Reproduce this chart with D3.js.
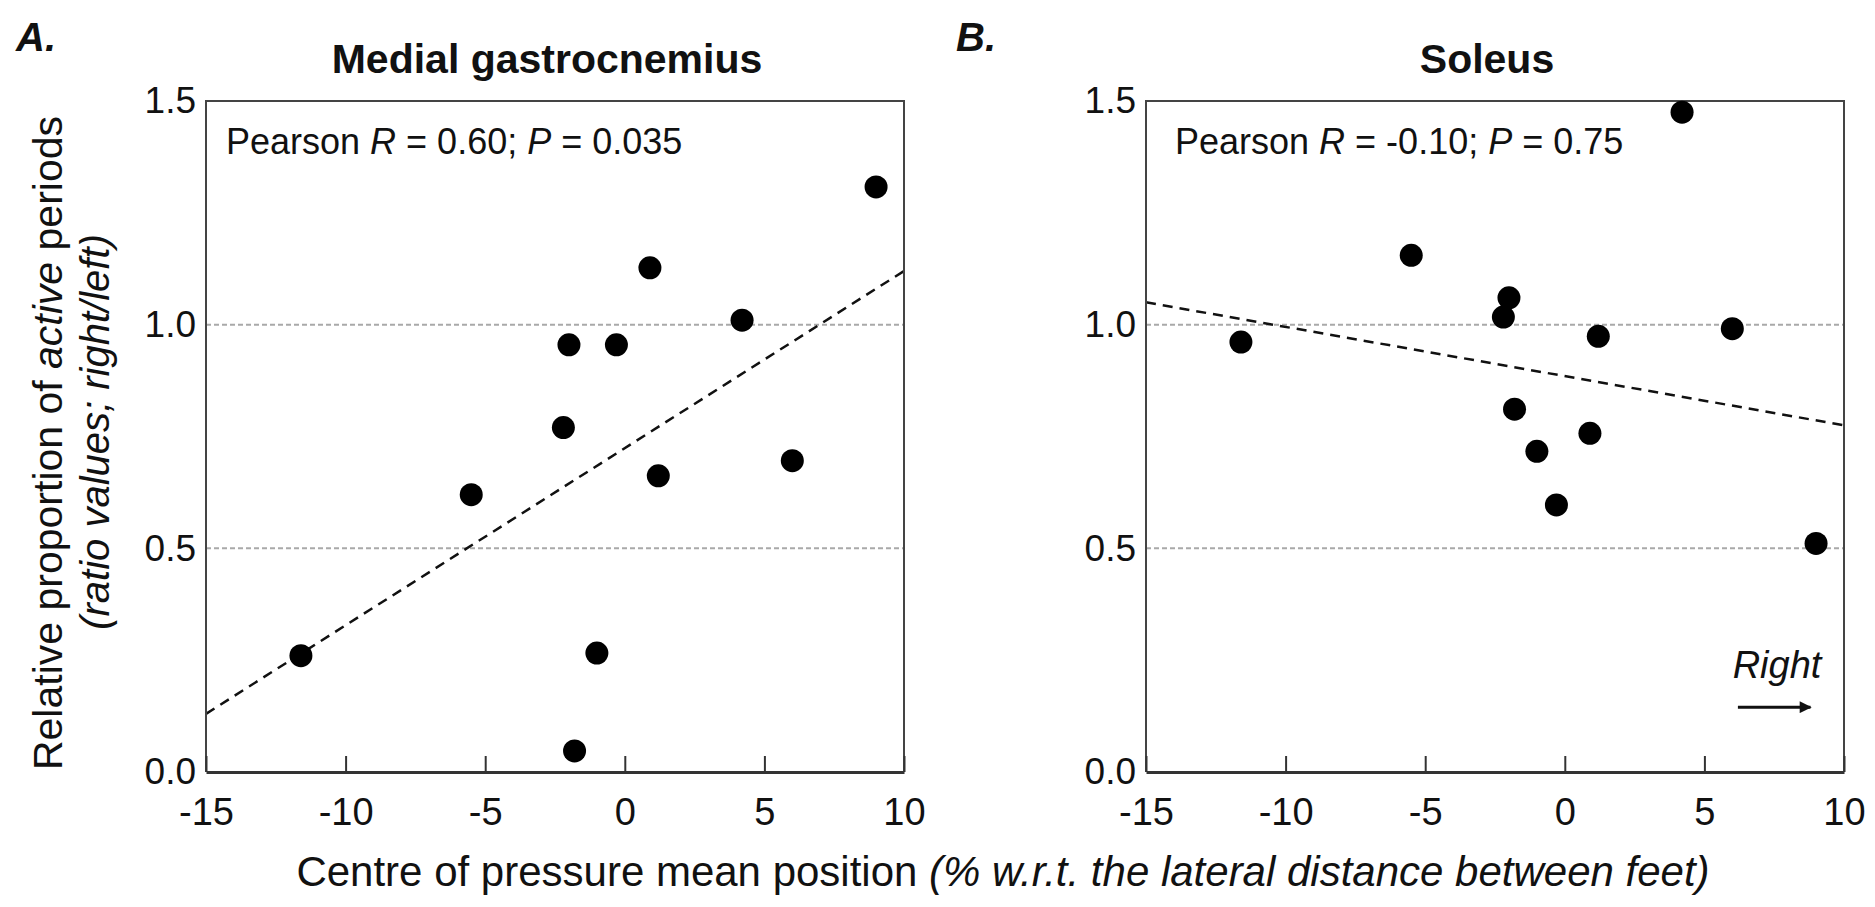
<!DOCTYPE html>
<html>
<head>
<meta charset="utf-8">
<script src="https://cdn.jsdelivr.net/npm/d3@7/dist/d3.min.js"></script>
<style>
  body { margin: 0; background: #fff; }
  text { font-family: "Liberation Sans", Arial, sans-serif; fill: #111; }
</style>
</head>
<body>
<script>
// centre of pressure mean position, one value per subject (same subjects in both panels)
var copX = [-11.6, -5.5, -2.2, -2.0, -1.8, -1.0, -0.3, 0.9, 1.2, 4.2, 6.0, 9.0];
var gastrocY = [0.26, 0.62, 0.77, 0.955, 0.047, 0.266, 0.955, 1.127, 0.662, 1.01, 0.696, 1.308];
var soleusY = [0.961, 1.155, 1.017, 1.06, 0.811, 0.717, 0.597, 0.757, 0.974, 1.475, 0.991, 0.511];

// regression line ends, at x = -15 and x = 10
var fitX = [-15, 10];
var gastrocFit = [0.13, 1.12];
var soleusFit = [1.05, 0.775];

var xTicks = [-15, -10, -5, 0, 5, 10];
var yTicks = [0, 0.5, 1.0, 1.5];
var refLines = [0.5, 1.0];

var svg = d3.select("body").append("svg")
  .attr("width", 1875)
  .attr("height", 907);

function drawPanel(opt) {
  var x = d3.scaleLinear().domain([-15, 10]).range([opt.left, opt.left + 698]);
  var y = d3.scaleLinear().domain([0, 1.5]).range([772, 101]);
  var g = svg.append("g");

  g.selectAll("line.ref")
    .data(refLines)
    .enter().append("line")
      .attr("class", "ref")
      .attr("x1", x(-15)).attr("x2", x(10))
      .attr("y1", function(d) { return y(d); })
      .attr("y2", function(d) { return y(d); })
      .attr("stroke", "#a9a9a9")
      .attr("stroke-width", 2)
      .attr("stroke-dasharray", "5,3");

  var line = d3.line()
    .x(function(d) { return x(d[0]); })
    .y(function(d) { return y(d[1]); });
  g.append("path")
    .attr("d", line(d3.zip(fitX, opt.fit)))
    .attr("fill", "none")
    .attr("stroke", "#111")
    .attr("stroke-width", 2.5)
    .attr("stroke-dasharray", "10,7");

  // frame: left, top, right
  g.append("path")
    .attr("d", "M" + x(-15) + "," + y(0) + "V" + y(1.5) + "H" + x(10) + "V" + y(0))
    .attr("fill", "none")
    .attr("stroke", "#444")
    .attr("stroke-width", 2);

  var xAxis = g.append("g")
    .attr("transform", "translate(0," + y(0) + ")")
    .call(d3.axisBottom(x).tickValues(xTicks).tickSizeInner(-16).tickSizeOuter(0)
      .tickPadding(26).tickFormat(function(d) { return String(d); }));
  xAxis.select(".domain").attr("stroke", "#333").attr("stroke-width", 3);
  xAxis.selectAll(".tick line").attr("stroke", "#333").attr("stroke-width", 2);
  xAxis.selectAll(".tick text")
    .attr("font-size", 38)
    .attr("fill", "#111")
    .style("font-family", "'Liberation Sans', Arial, sans-serif");

  var yAxis = g.append("g")
    .attr("transform", "translate(" + x(-15) + ",0)")
    .call(d3.axisLeft(y).tickValues(yTicks).tickSize(0).tickPadding(10).tickFormat(d3.format(".1f")));
  yAxis.select(".domain").remove();
  yAxis.selectAll(".tick text")
    .attr("font-size", 37)
    .attr("fill", "#111")
    .style("font-family", "'Liberation Sans', Arial, sans-serif");

  g.selectAll("circle.pt")
    .data(d3.zip(copX, opt.values))
    .enter().append("circle")
      .attr("class", "pt")
      .attr("cx", function(d) { return x(d[0]); })
      .attr("cy", function(d) { return y(d[1]); })
      .attr("r", 11.5)
      .attr("fill", "#000");

  var stat = g.append("text")
    .attr("x", opt.left + opt.statDx)
    .attr("y", 154)
    .attr("font-size", 36);
  stat.append("tspan").text("Pearson ");
  stat.append("tspan").attr("font-style", "italic").text("R");
  stat.append("tspan").text(" = " + opt.r + "; ");
  stat.append("tspan").attr("font-style", "italic").text("P");
  stat.append("tspan").text(" = " + opt.p);

  g.append("text")
    .attr("x", (x(-15) + x(10)) / 2 - 8)
    .attr("y", 73)
    .attr("text-anchor", "middle")
    .attr("font-size", 41)
    .attr("font-weight", "bold")
    .text(opt.title);

  g.append("text")
    .attr("x", opt.left - 190)
    .attr("y", 51)
    .attr("font-size", 40)
    .attr("font-weight", "bold")
    .attr("font-style", "italic")
    .text(opt.tag);

  return { x: x, y: y, g: g };
}

var pA = drawPanel({ left: 206, values: gastrocY, fit: gastrocFit, r: "0.60", p: "0.035",
  statDx: 20, title: "Medial gastrocnemius", tag: "A." });
var pB = drawPanel({ left: 1146, values: soleusY, fit: soleusFit, r: "-0.10", p: "0.75",
  statDx: 29, title: "Soleus", tag: "B." });

// "Right" direction marker in panel B
var defs = svg.append("defs");
defs.append("marker")
  .attr("id", "head")
  .attr("viewBox", "0 0 10 10")
  .attr("refX", 9).attr("refY", 5)
  .attr("markerWidth", 4.5).attr("markerHeight", 4)
  .attr("orient", "auto")
  .append("path").attr("d", "M0,0L10,5L0,10Z").attr("fill", "#111");

pB.g.append("line")
  .attr("x1", pB.x(6.2)).attr("x2", pB.x(8.8))
  .attr("y1", pB.y(0.145)).attr("y2", pB.y(0.145))
  .attr("stroke", "#111")
  .attr("stroke-width", 3)
  .attr("marker-end", "url(#head)");
pB.g.append("text")
  .attr("x", pB.x(7.6))
  .attr("y", pB.y(0.21))
  .attr("text-anchor", "middle")
  .attr("font-size", 38)
  .attr("font-style", "italic")
  .text("Right");

// y axis title (two lines)
var yt = svg.append("text")
  .attr("transform", "translate(62,443) rotate(-90)")
  .attr("text-anchor", "middle")
  .attr("font-size", 41);
yt.append("tspan").text("Relative proportion of ");
yt.append("tspan").attr("font-style", "italic").text("active");
yt.append("tspan").text(" periods");

var yt2 = svg.append("text")
  .attr("transform", "translate(109,432) rotate(-90)")
  .attr("text-anchor", "middle")
  .attr("font-size", 40)
  .attr("font-style", "italic");
yt2.append("tspan").text("(");
yt2.append("tspan").text("ratio values; right/left");
yt2.append("tspan").text(")");

// x axis title
var xt = svg.append("text")
  .attr("x", 1003)
  .attr("y", 886)
  .attr("text-anchor", "middle")
  .attr("font-size", 42);
xt.append("tspan").text("Centre of pressure mean position ");
xt.append("tspan").attr("font-style", "italic").text("(% w.r.t. the lateral distance between feet)");
</script>
</body>
</html>
